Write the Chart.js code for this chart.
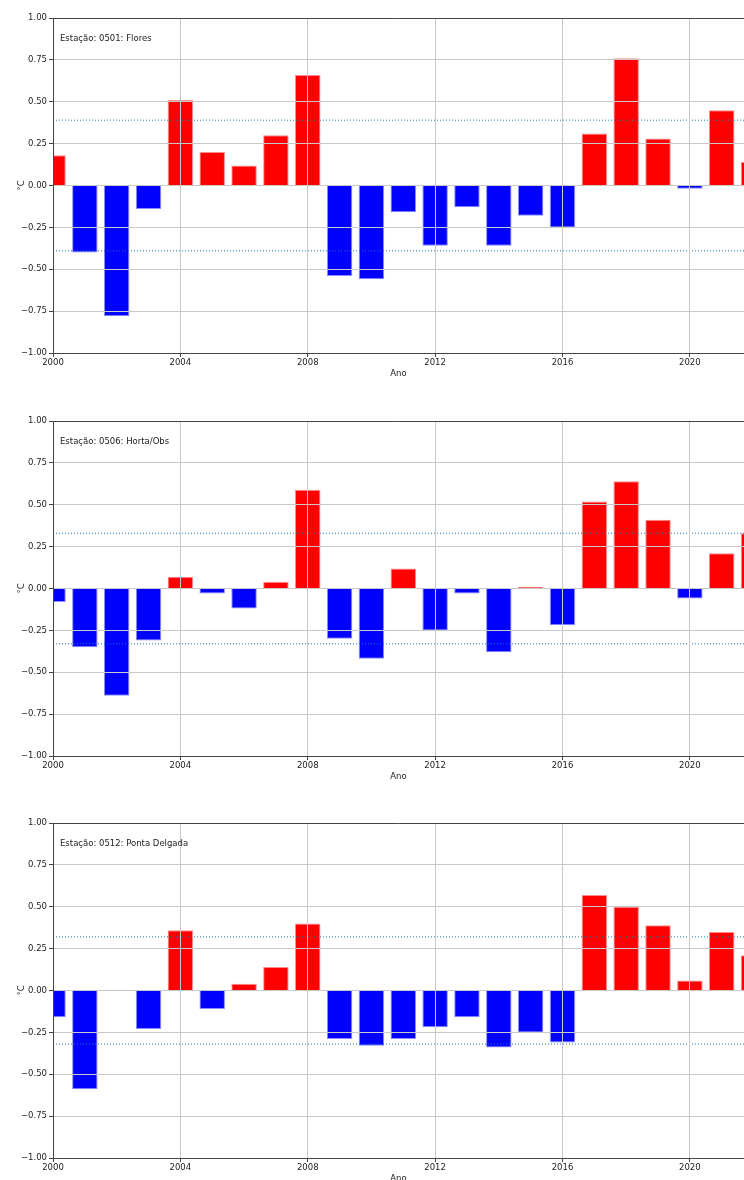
<!DOCTYPE html>
<html>
<head>
<meta charset="utf-8">
<script src="https://cdn.jsdelivr.net/npm/chart.js@4.4.1/dist/chart.umd.min.js"></script>
<style>
  html, body { margin: 0; padding: 0; background: #fff; width: 744px; height: 1180px; overflow: hidden; }
  .panel { position: absolute; left: 0; width: 744px; height: 379px; }
</style>
</head>
<body>
<div class="panel" style="top:0px"><canvas id="c1"></canvas></div>
<div class="panel" style="top:403px"><canvas id="c2"></canvas></div>
<div class="panel" style="top:805px"><canvas id="c3"></canvas></div>
<script>
// ---- data ----
const years = [2000,2001,2002,2003,2004,2005,2006,2007,2008,2009,2010,2011,2012,2013,2014,2015,2016,2017,2018,2019,2020,2021,2022];
const floresValues       = [0.18,-0.40,-0.78,-0.14,0.51,0.20,0.12,0.30,0.66,-0.54,-0.56,-0.16,-0.36,-0.13,-0.36,-0.18,-0.25,0.31,0.76,0.28,-0.02,0.45,0.14];
const hortaValues        = [-0.08,-0.35,-0.64,-0.31,0.07,-0.03,-0.12,0.04,0.59,-0.30,-0.42,0.12,-0.25,-0.03,-0.38,0.01,-0.22,0.52,0.64,0.41,-0.06,0.21,0.33];
const pontaDelgadaValues = [-0.16,-0.59,null,-0.23,0.36,-0.11,0.04,0.14,0.40,-0.29,-0.33,-0.29,-0.22,-0.16,-0.34,-0.25,-0.31,0.57,0.50,0.39,0.06,0.35,0.21];
const floresThreshold = 0.39;
const hortaThreshold = 0.33;
const pontaDelgadaThreshold = 0.32;
const stationLabels = ['Estação: 0501: Flores', 'Estação: 0506: Horta/Obs', 'Estação: 0512: Ponta Delgada'];
const xMin = 2000, xMax = 2021.7, xStep = 4;
const yMin = -1, yMax = 1, yStep = 0.25;
const xTitle = 'Ano', yTitle = '°C';

Chart.defaults.font.family = '"DejaVu Sans", sans-serif';
Chart.defaults.font.size = 8.5;
Chart.defaults.color = '#222';

const overlay = {
  id: 'overlay',
  afterDatasetsDraw(chart, args, opts) {
    const { ctx, chartArea } = chart;
    chart.scales.x.drawGrid(chartArea);
    chart.scales.y.drawGrid(chartArea);
    chart.scales.x.drawBorder();
    chart.scales.y.drawBorder();
    ctx.save();
    ctx.strokeStyle = '#444';
    ctx.lineWidth = 1;
    ctx.beginPath();
    ctx.moveTo(chartArea.left, chartArea.top + 0.5);
    ctx.lineTo(chartArea.right, chartArea.top + 0.5);
    ctx.stroke();
    ctx.fillStyle = '#222';
    ctx.font = '8.5px "DejaVu Sans"';
    ctx.textBaseline = 'middle';
    ctx.textAlign = 'left';
    ctx.fillText(opts.label, chartArea.left + 7, chartArea.top + 21);
    ctx.restore();
  }
};

function makeChart(id, values, thr, label) {
  const barData = years.map((y, i) => ({ x: y, y: values[i] }));
  const thrLine = v => [{ x: xMin, y: v }, { x: xMax + 1, y: v }];
  new Chart(document.getElementById(id), {
    data: {
      datasets: [
        { type: 'line', data: thrLine(thr), borderColor: '#1f77b4', borderWidth: 1, borderDash: [1, 2],
          pointRadius: 0, fill: false, clip: 0, order: 1 },
        { type: 'line', data: thrLine(-thr), borderColor: '#1f77b4', borderWidth: 1, borderDash: [1, 2],
          pointRadius: 0, fill: false, clip: 0, order: 1 },
        { type: 'bar', data: barData, clip: 0, order: 2,
          backgroundColor: c => (c.raw && c.raw.y >= 0) ? '#ff0000' : '#0000ff',
          borderColor: c => (c.raw && c.raw.y >= 0) ? '#ff8c8c' : '#8c8cff',
          borderWidth: 1,
          barPercentage: 0.8, categoryPercentage: 1.0 }
      ]
    },
    options: {
      responsive: true,
      maintainAspectRatio: false,
      animation: false,
      events: [],
      layout: { padding: { top: 18, left: 0, right: 0, bottom: 0 } },
      plugins: { legend: { display: false }, tooltip: { enabled: false }, overlay: { label } },
      scales: {
        x: {
          type: 'linear', min: xMin, max: xMax, offset: false,
          ticks: { stepSize: xStep, includeBounds: false, padding: 1, maxRotation: 0, autoSkip: false,
                   callback: v => String(v), color: '#222' },
          grid: { color: '#c8c8c8', lineWidth: 1, offset: false, tickLength: 4, tickColor: '#444', tickWidth: 1 },
          border: { color: '#444', width: 1 },
          title: { display: true, text: xTitle, padding: { top: 0, bottom: 0 }, color: '#222' },
          afterFit: s => { s.height = 26; }
        },
        y: {
          type: 'linear', min: yMin, max: yMax,
          ticks: { stepSize: yStep, padding: 2, color: '#222',
                   callback: v => v.toFixed(2).replace('-', '\u2212') },
          grid: { color: '#c8c8c8', lineWidth: 1, tickLength: 4, tickColor: '#444', tickWidth: 1 },
          border: { color: '#444', width: 1 },
          title: { display: true, text: yTitle, padding: { top: 17, bottom: 0 }, color: '#222' },
          afterFit: s => { s.width = 53; }
        }
      }
    },
    plugins: [overlay]
  });
}

makeChart('c1', floresValues, floresThreshold, stationLabels[0]);
makeChart('c2', hortaValues, hortaThreshold, stationLabels[1]);
makeChart('c3', pontaDelgadaValues, pontaDelgadaThreshold, stationLabels[2]);
</script>
</body>
</html>
